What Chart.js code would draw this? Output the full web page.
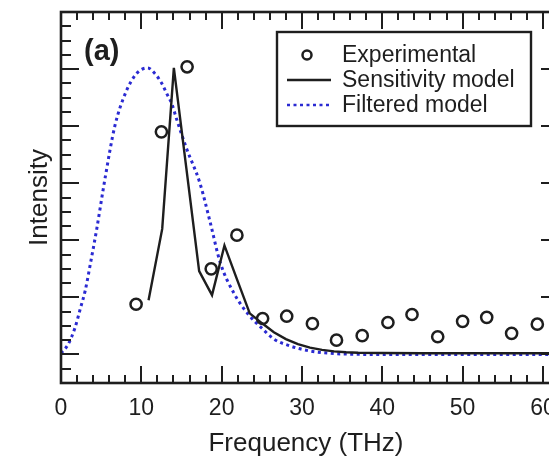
<!DOCTYPE html>
<html>
<head>
<meta charset="utf-8">
<script src="https://cdn.jsdelivr.net/npm/chart.js@4.4.1/dist/chart.umd.min.js"></script>
<style>
  html, body { margin: 0; padding: 0; overflow: hidden; background: #fff; }
  #wrap { width: 575px; height: 458px; }
</style>
</head>
<body>
<div id="wrap"><canvas id="chart" width="575" height="458"></canvas></div>
<script>
'use strict';

/* ── Data ── */
const seriesNames = ['Experimental', 'Sensitivity model', 'Filtered model'];

const freqExp = [9.35, 12.5, 15.7, 18.7, 21.9, 25.1, 28.1, 31.3, 34.3, 37.5, 40.7, 43.7, 46.9, 50.0, 53.0, 56.1, 59.3];
const intExp  = [0.88, 3.90, 5.04, 1.50, 2.09, 0.63, 0.67, 0.54, 0.25, 0.33, 0.56, 0.70, 0.31, 0.58, 0.65, 0.37, 0.53];

const freqSens = [10.9, 12.6, 14.05, 15.6, 17.2, 18.8, 20.35, 21.9, 23.5, 25.0, 26.5, 28.0, 29.5, 31.0, 32.5, 34.0, 35.5, 37.0, 40.0, 45.0, 50.0, 55.0, 62.0];
const intSens  = [0.95, 2.20, 5.02, 3.27, 1.46, 1.04, 1.91, 1.32, 0.72, 0.55, 0.39, 0.27, 0.18, 0.12, 0.08, 0.055, 0.04, 0.03, 0.025, 0.02, 0.02, 0.02, 0.02];

const freqFilt = [0, 0.9, 1.75, 2.4, 3.0, 3.7, 4.45, 5.5, 6.7, 8.0, 9.4, 10.8, 11.7, 12.5, 13.2, 13.8, 14.4, 15.6, 17.3, 18.6, 19.8, 21.5, 23.4, 25.0, 26.5, 28.5, 31.0, 33.5, 36.0, 40.0, 50.0, 62.0];
const intFilt  = [0.02, 0.18, 0.47, 0.80, 1.11, 1.62, 2.20, 3.10, 4.00, 4.57, 4.92, 5.02, 4.92, 4.76, 4.56, 4.39, 4.12, 3.62, 3.00, 2.30, 1.62, 1.08, 0.69, 0.46, 0.27, 0.15, 0.06, 0.02, 0.005, 0, 0, 0];

const xTickValues = [0, 10, 20, 30, 40, 50, 60];
const xTickLabels = ['0', '10', '20', '30', '40', '50', '60'];

/* ── Style ── */
const FONT = "'Liberation Sans', Arial, Helvetica, sans-serif";
const INK = '#1e1e1e';
const BLUE = '#2a2ad2';

const toPoints = (xs, ys) => xs.map((x, i) => ({ x, y: ys[i] }));

/* ── Frame, inward ticks, labels and legend ── */
const framePlugin = {
    id: 'frame',
    afterDatasetsDraw(chart) {
        const { ctx, chartArea: a, scales: { x, y } } = chart;
        ctx.save();
        ctx.strokeStyle = INK;
        ctx.lineCap = 'butt';

        // ticks
        ctx.lineWidth = 2;
        ctx.beginPath();
        for (let v = x.min; v <= x.max + 1e-6; v += 2) {
            const px = Math.round(x.getPixelForValue(v));
            const len = v % 10 === 0 ? 17 : 8;
            ctx.moveTo(px, a.bottom); ctx.lineTo(px, a.bottom - len);
            ctx.moveTo(px, a.top); ctx.lineTo(px, a.top + len);
        }
        for (let v = y.min; v <= y.max + 1e-6; v += 0.25) {
            const py = Math.round(y.getPixelForValue(v));
            const len = Math.abs(v % 1) < 1e-6 ? 18 : 10;
            ctx.moveTo(a.left, py); ctx.lineTo(a.left + len, py);
            ctx.moveTo(a.right, py); ctx.lineTo(a.right - len, py);
        }
        ctx.stroke();

        // frame
        ctx.lineWidth = 2.6;
        ctx.strokeRect(a.left, a.top, a.right - a.left, a.bottom - a.top);

        // tick labels
        ctx.fillStyle = INK;
        ctx.font = `23px ${FONT}`;
        ctx.textAlign = 'center';
        ctx.textBaseline = 'alphabetic';
        xTickValues.forEach((v, i) => {
            ctx.fillText(xTickLabels[i], x.getPixelForValue(v), a.bottom + 32);
        });

        // axis titles
        ctx.font = `26px ${FONT}`;
        ctx.fillText('Frequency (THz)', 306, 451);
        ctx.save();
        ctx.translate(47, (a.top + a.bottom) / 2);
        ctx.rotate(-Math.PI / 2);
        ctx.fillText('Intensity', 0, 0);
        ctx.restore();

        // panel tag
        ctx.font = `bold 29px ${FONT}`;
        ctx.textAlign = 'left';
        ctx.fillText('(a)', 84, 60);

        // legend
        const lx = 277, ly = 32, lw = 254, lh = 94;
        ctx.fillStyle = '#fff';
        ctx.fillRect(lx, ly, lw, lh);
        ctx.lineWidth = 2.4;
        ctx.strokeRect(lx, ly, lw, lh);

        const ds = chart.data.datasets;
        const rows = [55, 80, 105];
        ctx.font = `23px ${FONT}`;
        ctx.fillStyle = INK;
        ctx.textBaseline = 'middle';
        rows.forEach((ry, i) => {
            const d = ds[i];
            if (i === 0) {
                ctx.beginPath();
                ctx.lineWidth = d.borderWidth;
                ctx.strokeStyle = d.borderColor;
                ctx.arc(307, ry, 4.5, 0, Math.PI * 2);
                ctx.stroke();
            } else {
                ctx.beginPath();
                ctx.lineWidth = i === 2 ? 2.4 : d.borderWidth;
                ctx.strokeStyle = d.borderColor;
                ctx.setLineDash(d.borderDash || []);
                ctx.moveTo(287, ry); ctx.lineTo(331, ry);
                ctx.stroke();
                ctx.setLineDash([]);
            }
            ctx.fillText(seriesNames[i], 342, ry + 1);
        });

        ctx.restore();
    },
};

new Chart(document.getElementById('chart'), {
    type: 'scatter',
    data: {
        datasets: [
            {
                label: seriesNames[0],
                data: toPoints(freqExp, intExp),
                showLine: false,
                pointStyle: 'circle',
                pointRadius: 5.6,
                pointBorderWidth: 2.5,
                borderWidth: 2.5,
                borderColor: INK,
                pointBackgroundColor: 'rgba(0,0,0,0)',
                backgroundColor: 'rgba(0,0,0,0)',
            },
            {
                label: seriesNames[1],
                data: toPoints(freqSens, intSens),
                showLine: true,
                borderColor: INK,
                borderWidth: 2.4,
                pointRadius: 0,
                tension: 0,
            },
            {
                label: seriesNames[2],
                data: toPoints(freqFilt, intFilt),
                showLine: true,
                borderColor: BLUE,
                borderWidth: 3,
                borderDash: [3, 3.5],
                pointRadius: 0,
                cubicInterpolationMode: 'monotone',
            },
        ],
    },
    options: {
        responsive: false,
        animation: false,
        events: [],
        layout: { padding: { left: 61, top: 12, right: 16, bottom: 75 } },
        plugins: {
            legend: { display: false },
            tooltip: { enabled: false },
        },
        scales: {
            x: { type: 'linear', display: false, min: 0, max: 62 },
            y: { type: 'linear', display: false, min: -0.5, max: 6 },
        },
    },
    plugins: [framePlugin],
});
</script>
</body>
</html>
